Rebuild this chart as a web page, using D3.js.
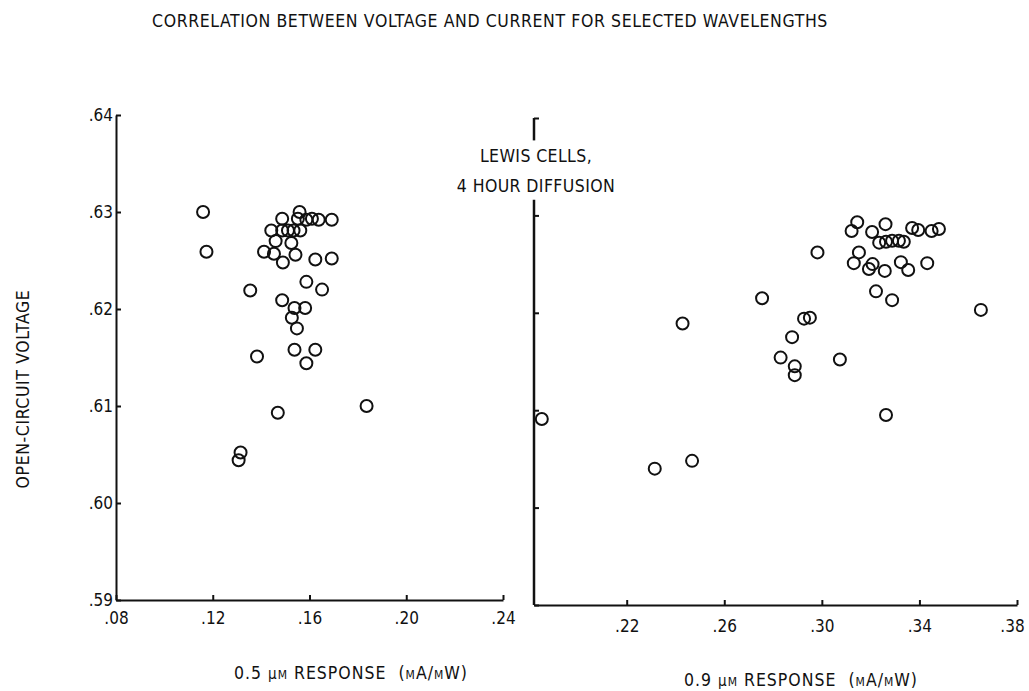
<!DOCTYPE html>
<html>
<head>
<meta charset="utf-8">
<script src="https://cdn.jsdelivr.net/npm/d3@7"></script>
<style>
  body { margin: 0; background: #fff; }
  svg text { font-family: "Liberation Sans Narrow", "DejaVu Sans Condensed", "DejaVu Sans", sans-serif; font-stretch: condensed; fill: #111; }
</style>
</head>
<body>
<div id="chart"></div>
<script>
var width = 1029
var height = 691

// 0.5 um response vs open-circuit voltage (left panel)
const leftX = [.116, .1174, .1559, .1552, .1587, .1610, .1638, .1692, .1487, .1442, .1487, .1511, .1534, .1562,
  .1460, .1525, .1412, .1453, .1542, .1490, .1624, .1692, .1587, .1355, .1652, .1487, .1538, .1582, .1527, .1548,
  .1383, .1538, .1624, .1587, .1469, .1836, .1315, .1307];
const leftY = [.6300, .6259, .6300, .6293, .6292, .6293, .6292, .6292, .6293, .6281, .6281, .6281, .6281, .6281,
  .6270, .6268, .6259, .6257, .6256, .6248, .6251, .6252, .6228, .6219, .6220, .6209, .6201, .6201, .6191, .6180,
  .6151, .6158, .6158, .6144, .6093, .6100, .6052, .6044];

// 0.9 um response vs open-circuit voltage (right panel)
const rightX = [.3145, .3122, .3206, .3261, .3370, .3395, .3450, .3480, .3235, .3263, .3288, .3316, .3336, .2982,
  .3152, .3131, .3208, .3193, .3258, .3324, .3354, .3432, .3222, .3288, .3652, .2755, .2429, .2927, .2951, .2878,
  .2831, .2889, .2889, .3074, .1852, .3263, .2315, .2468];
const rightY = [.6293, .6284, .6283, .6291, .6287, .6285, .6284, .6286, .6272, .6273, .6274, .6274, .6273, .6262,
  .6262, .6251, .6250, .6245, .6243, .6252, .6244, .6251, .6222, .6213, .6203, .6215, .6189, .6194, .6195, .6175,
  .6154, .6145, .6136, .6152, .6091, .6095, .6040, .6048];

const leftXTicks = [.08, .12, .16, .20, .24];
const rightXTicks = [.22, .26, .30, .34, .38];
const yTicks = [.59, .60, .61, .62, .63, .64];

const title = "CORRELATION BETWEEN VOLTAGE AND CURRENT FOR SELECTED WAVELENGTHS";
const yAxisLabel = "OPEN-CIRCUIT VOLTAGE";
const noteLines = ["LEWIS CELLS,", "4 HOUR DIFFUSION"];

var svg = d3.select("#chart").append("svg")
  .attr("width", width)
  .attr("height", height)

const fmt = d => d3.format(".2f")(d).replace(/^0/, "");

// scales
const xLeft = d3.scaleLinear().domain([.08, .24]).range([116, 503]);
const yLeft = d3.scaleLinear().domain([.59, .64]).range([600, 115]);
const xRight = d3.scaleLinear().domain([.182, .38]).range([534, 1017]);
const yRight = d3.scaleLinear().domain([.59, .64]).range([605, 118]);

const styleAxis = g => {
  g.selectAll("path.domain").attr("stroke", "#111").attr("stroke-width", 2);
  g.selectAll(".tick line").attr("stroke", "#111").attr("stroke-width", 2);
  g.selectAll(".tick text").attr("font-size", 17).attr("fill", "#111")
    .attr("font-family", "'Liberation Sans Narrow', 'DejaVu Sans Condensed', sans-serif");
}

// left panel axes
svg.append("g")
  .attr("transform", `translate(0, ${yLeft(.59)})`)
  .call(d3.axisBottom(xLeft).tickValues(leftXTicks).tickFormat(fmt).tickSize(-5).tickSizeOuter(0).tickPadding(12))
  .call(styleAxis);

svg.append("g")
  .attr("transform", `translate(${xLeft(.08)}, 0)`)
  .call(d3.axisLeft(yLeft).tickValues(yTicks).tickFormat(fmt).tickSize(-5).tickSizeOuter(0).tickPadding(3))
  .call(styleAxis)
  .call(g => g.selectAll(".tick text").attr("text-anchor", "end"));

// right panel axes
svg.append("g")
  .attr("transform", `translate(0, ${yRight(.59)})`)
  .call(d3.axisBottom(xRight).tickValues(rightXTicks).tickFormat(fmt).tickSize(-5).tickSizeOuter(0).tickPadding(15))
  .call(styleAxis)
  .call(g => g.selectAll(".tick text").filter(d => d === .38).attr("dx", -5));

const yRightG = svg.append("g")
  .attr("transform", `translate(${xRight(.182)}, 0)`)
  .call(d3.axisLeft(yRight).tickValues(yTicks).tickFormat("").tickSize(-5).tickSizeOuter(0))
  .call(styleAxis);

// the right axis line is broken where the note sits
yRightG.select(".domain").remove();
const axisPieces = [[.64, .6377], [.6316, .59]];
yRightG.selectAll("line.piece").data(axisPieces)
  .enter().append("line")
  .attr("class", "piece")
  .attr("x1", 0).attr("x2", 0)
  .attr("y1", d => yRight(d[0]))
  .attr("y2", d => yRight(d[1]))
  .attr("stroke", "#111")
  .attr("stroke-width", 2.5);

// points
const circleStyle = sel => sel
  .attr("r", 6)
  .attr("fill", "none")
  .attr("stroke", "#111")
  .attr("stroke-width", 2);

svg.append("g").selectAll("circle").data(d3.range(leftX.length))
  .enter().append("circle")
  .attr("cx", i => xLeft(leftX[i]))
  .attr("cy", i => yLeft(leftY[i]))
  .call(circleStyle);

svg.append("g").selectAll("circle").data(d3.range(rightX.length))
  .enter().append("circle")
  .attr("cx", i => xRight(rightX[i]))
  .attr("cy", i => yRight(rightY[i]))
  .call(circleStyle);

// texts
svg.append("text")
  .attr("x", 490)
  .attr("y", 27)
  .attr("text-anchor", "middle")
  .attr("font-size", 17.5)
  .attr("letter-spacing", 0.6)
  .text(title);

svg.append("text")
  .attr("transform", "translate(29, 389) rotate(-90)")
  .attr("text-anchor", "middle")
  .attr("font-size", 17.5)
  .attr("letter-spacing", 0.6)
  .text(yAxisLabel);

svg.selectAll("text.note").data(noteLines)
  .enter().append("text")
  .attr("class", "note")
  .attr("x", 536)
  .attr("y", (d, i) => 162 + i * 30)
  .attr("text-anchor", "middle")
  .attr("font-size", 17.5)
  .attr("letter-spacing", 0.4)
  .text(d => d);

const xLabel = (x, y, num) => {
  const t = svg.append("text")
    .attr("x", x)
    .attr("y", y)
    .attr("text-anchor", "middle")
    .attr("font-size", 17.5)
    .attr("letter-spacing", 1)
    .style("white-space", "pre");
  t.append("tspan").text(num + " ");
  t.append("tspan").attr("font-size", 15).text("μ");
  t.append("tspan").attr("font-size", 17.5).style("font-variant", "small-caps").text("m");
  t.append("tspan").text(" RESPONSE  ");
  t.append("tspan").style("font-variant", "small-caps").text("(mA/mW)");
}
xLabel(351, 679, "0.5");
xLabel(801, 686, "0.9");
</script>
</body>
</html>
